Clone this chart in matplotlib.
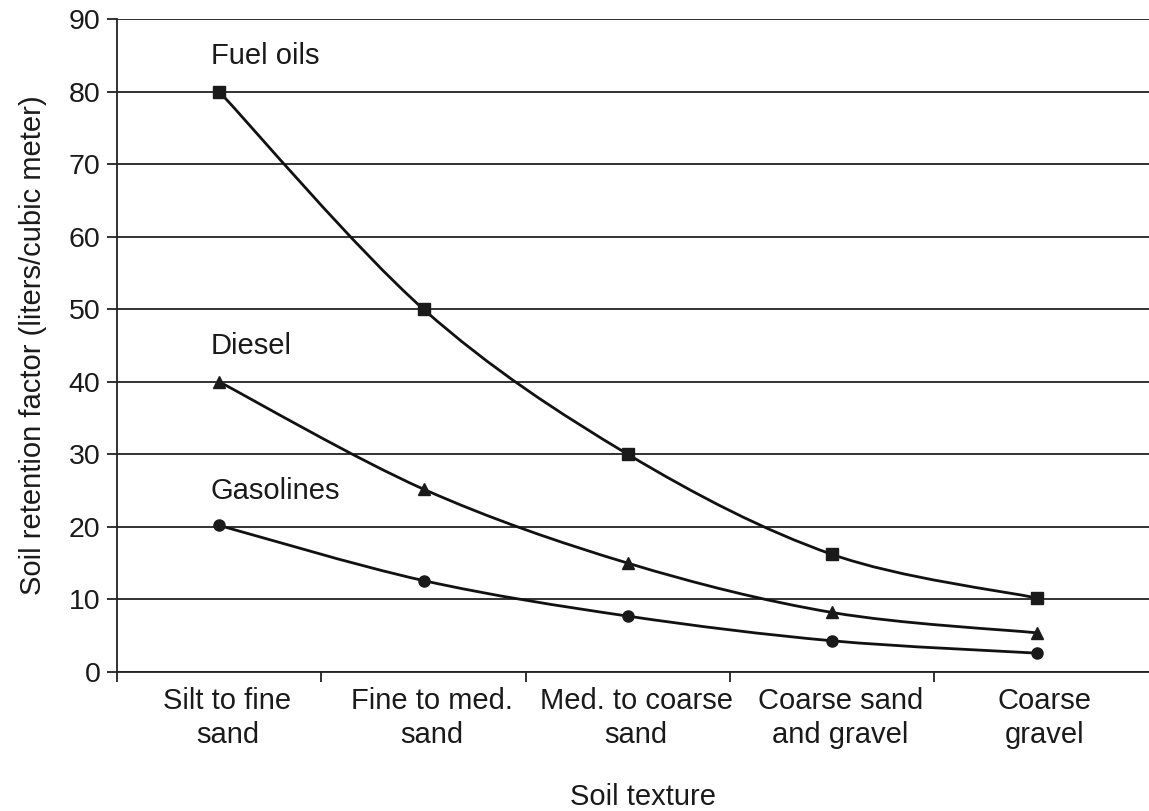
import numpy as np
import matplotlib
matplotlib.use('Agg')
import matplotlib.pyplot as plt
from matplotlib.path import Path
from matplotlib.patches import PathPatch

plt.rcParams['font.family'] = ['Liberation Sans', 'DejaVu Sans']

# ── Data ──────────────────────────────────────────────────────────────────────
categories = ['Silt to fine\nsand', 'Fine to med.\nsand', 'Med. to coarse\nsand',
              'Coarse sand\nand gravel', 'Coarse\ngravel']
fuel_oils = [80, 50, 30, 16.2, 10.2]
diesel    = [40, 25.2, 15, 8.2, 5.4]
gasolines = [20.2, 12.6, 7.7, 4.3, 2.6]

series = [
    ('Fuel oils', fuel_oils, 's', 84.9),
    ('Diesel',    diesel,    '^', 44.9),
    ('Gasolines', gasolines, 'o', 24.9),
]

TXT = '#1a1a1a'
FS = 21


def smooth_path(xs, ys):
    # Catmull-Rom style cubic Bezier through the points (like Excel smoothing)
    pts = np.column_stack([xs, ys]).astype(float)
    n = len(pts)
    verts = [pts[0]]
    codes = [Path.MOVETO]
    for i in range(n - 1):
        p0 = pts[i - 1] if i > 0 else pts[i]
        p1, p2 = pts[i], pts[i + 1]
        p3 = pts[i + 2] if i + 2 < n else pts[i + 1]
        c1 = p1 + (p2 - p0) / 6.0
        c2 = p2 - (p3 - p1) / 6.0
        verts += [c1, c2, p2]
        codes += [Path.CURVE4] * 3
    return Path(verts, codes)


fig = plt.figure(figsize=(11.49, 8.11), dpi=100)
ax = fig.add_axes([0.1018, 0.1714, 0.8982, 0.8052])

x = np.arange(len(categories))
for name, vals, mk, ly in series:
    ax.add_patch(PathPatch(smooth_path(x, vals), facecolor='none',
                           edgecolor='#111111', lw=2.0, zorder=3))
    ax.plot(x, vals, linestyle='none', marker=mk, color=TXT,
            markersize=8.5 if mk != 'o' else 8, zorder=4)
    ax.text(-0.04, ly, name, fontsize=FS, va='center', ha='left', color=TXT)

ax.set_xlim(-0.5, 4.55)
ax.set_ylim(0, 90)
ax.set_yticks(np.arange(0, 91, 10))
ax.yaxis.grid(True, color='#222222', lw=1.3)
ax.set_axisbelow(True)

for s in ['top', 'right']:
    ax.spines[s].set_visible(False)
for s in ['left', 'bottom']:
    ax.spines[s].set_linewidth(1.3)
    ax.spines[s].set_color('#222222')

ax.set_xticks([-0.5, 0.5, 1.5, 2.5, 3.5])
ax.set_xticklabels([])
ax.set_xticks(x + 0.04, minor=True)
ax.set_xticklabels(categories, minor=True, fontsize=FS, color=TXT, linespacing=1.25)
ax.tick_params(axis='x', which='major', direction='out', length=7, width=1.3, color='#222222')
ax.tick_params(axis='x', which='minor', length=0, pad=11)
ax.tick_params(axis='y', direction='out', length=7, width=1.3, pad=5,
               labelsize=20.5, labelcolor=TXT, color='#222222')

ax.set_ylabel('Soil retention factor (liters/cubic meter)', fontsize=FS, color=TXT)
ax.yaxis.set_label_coords(-0.068, 0.5)
ax.set_xlabel('Soil texture', fontsize=FS, color=TXT)
ax.xaxis.set_label_coords(0.51, -0.17)

plt.savefig('out.png', dpi=100, facecolor='white')
